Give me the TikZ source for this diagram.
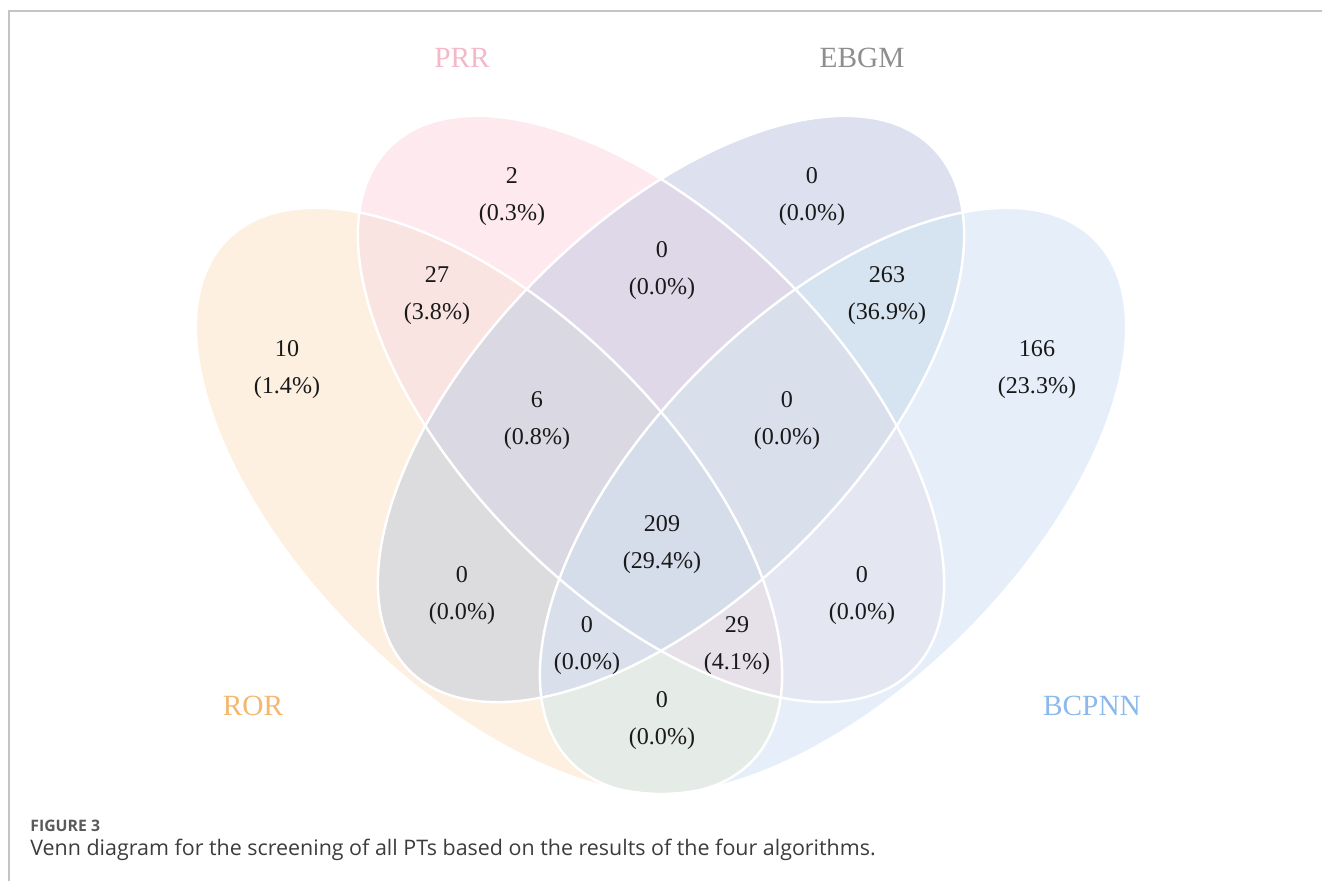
\documentclass[tikz,border=0pt]{standalone}
\usepackage{fontspec}
\setmainfont{Liberation Serif}
\newfontfamily\capfont{Open Sans}
\usetikzlibrary{positioning}
\definecolor{FrameGray}{HTML}{C4C4C4}
\definecolor{CapGray}{HTML}{5A5A5A}
\definecolor{CapText}{HTML}{3C3C3C}
\definecolor{RorLabel}{HTML}{F5B66E}
\definecolor{PrrLabel}{HTML}{F4B8C8}
\definecolor{EbgmLabel}{HTML}{8E8E8E}
\definecolor{BcpnnLabel}{HTML}{8BB9EA}
% one fill per region of the diagram
\definecolor{RorOnly}{HTML}{FDF0E0}
\definecolor{PrrOnly}{HTML}{FDE9EE}
\definecolor{EbgmOnly}{HTML}{DCE0EF}
\definecolor{BcpnnOnly}{HTML}{E5EEF9}
\definecolor{RorPrr}{HTML}{F9E4E1}
\definecolor{RorEbgm}{HTML}{DCDCDF}
\definecolor{RorBcpnn}{HTML}{E5EBE6}
\definecolor{PrrEbgm}{HTML}{DFD8E8}
\definecolor{PrrBcpnn}{HTML}{E4E6F2}
\definecolor{EbgmBcpnn}{HTML}{D6E3F0}
\definecolor{RorPrrEbgm}{HTML}{D9D8E3}
\definecolor{RorPrrBcpnn}{HTML}{E6E1E8}
\definecolor{RorEbgmBcpnn}{HTML}{D9E0EC}
\definecolor{PrrEbgmBcpnn}{HTML}{D9DFEB}
\definecolor{AllFour}{HTML}{D5DCEA}
\tikzset{
  venn/.style={x radius=7.4cm, y radius=3.74cm},
  rorset/.style={rotate around={-45:(rorc)}},
  prrset/.style={rotate around={-45:(prrc)}},
  ebgmset/.style={rotate around={45:(ebgmc)}},
  bcpnnset/.style={rotate around={45:(bcpnnc)}},
  vennline/.style={draw=white, line width=1.4pt},
  cnt/.style={align=center, font=\fontsize{13.7}{21}\selectfont, text=black!90, inner sep=0pt},
  setlab/.style={font=\fontsize{16.7}{20}\selectfont, inner sep=0pt},
  figlab/.style={font=\capfont\bfseries\fontsize{9}{10}\selectfont, text=CapGray, inner sep=0pt},
  figtext/.style={font=\capfont\fontsize{12.2}{14}\selectfont, text=CapText, inner sep=0pt},
}

\begin{document}
\begin{tikzpicture}[x=0.02cm, y=-0.02cm]

  \useasboundingbox (0,0) rectangle (1322,881);
  \draw[FrameGray, line width=0.6pt] (9,881) |- (1322,11);

  \coordinate (rorc)   at (489,501);
  \coordinate (prrc)   at (651,409);
  \coordinate (ebgmc)  at (671,409);
  \coordinate (bcpnnc) at (833,501);

  % single sets first, then pairs, triples and the four-way region on top
  \fill[RorOnly, rorset]     (rorc)   ellipse[venn];
  \fill[PrrOnly, prrset]     (prrc)   ellipse[venn];
  \fill[EbgmOnly, ebgmset]   (ebgmc)  ellipse[venn];
  \fill[BcpnnOnly, bcpnnset] (bcpnnc) ellipse[venn];

  \begin{scope}
    \clip[rorset] (rorc) ellipse[venn];
    \fill[RorPrr, prrset] (prrc) ellipse[venn];
  \end{scope}
  \begin{scope}
    \clip[rorset] (rorc) ellipse[venn];
    \fill[RorEbgm, ebgmset] (ebgmc) ellipse[venn];
  \end{scope}
  \begin{scope}
    \clip[rorset] (rorc) ellipse[venn];
    \fill[RorBcpnn, bcpnnset] (bcpnnc) ellipse[venn];
  \end{scope}
  \begin{scope}
    \clip[prrset] (prrc) ellipse[venn];
    \fill[PrrEbgm, ebgmset] (ebgmc) ellipse[venn];
  \end{scope}
  \begin{scope}
    \clip[prrset] (prrc) ellipse[venn];
    \fill[PrrBcpnn, bcpnnset] (bcpnnc) ellipse[venn];
  \end{scope}
  \begin{scope}
    \clip[ebgmset] (ebgmc) ellipse[venn];
    \fill[EbgmBcpnn, bcpnnset] (bcpnnc) ellipse[venn];
  \end{scope}

  \begin{scope}
    \clip[rorset] (rorc) ellipse[venn];
    \clip[prrset] (prrc) ellipse[venn];
    \fill[RorPrrEbgm, ebgmset] (ebgmc) ellipse[venn];
  \end{scope}
  \begin{scope}
    \clip[rorset] (rorc) ellipse[venn];
    \clip[prrset] (prrc) ellipse[venn];
    \fill[RorPrrBcpnn, bcpnnset] (bcpnnc) ellipse[venn];
  \end{scope}
  \begin{scope}
    \clip[rorset] (rorc) ellipse[venn];
    \clip[ebgmset] (ebgmc) ellipse[venn];
    \fill[RorEbgmBcpnn, bcpnnset] (bcpnnc) ellipse[venn];
  \end{scope}
  \begin{scope}
    \clip[prrset] (prrc) ellipse[venn];
    \clip[ebgmset] (ebgmc) ellipse[venn];
    \fill[PrrEbgmBcpnn, bcpnnset] (bcpnnc) ellipse[venn];
  \end{scope}
  \begin{scope}
    \clip[rorset] (rorc) ellipse[venn];
    \clip[prrset] (prrc) ellipse[venn];
    \clip[ebgmset] (ebgmc) ellipse[venn];
    \fill[AllFour, bcpnnset] (bcpnnc) ellipse[venn];
  \end{scope}

  \draw[vennline, rorset]   (rorc)   ellipse[venn];
  \draw[vennline, prrset]   (prrc)   ellipse[venn];
  \draw[vennline, ebgmset]  (ebgmc)  ellipse[venn];
  \draw[vennline, bcpnnset] (bcpnnc) ellipse[venn];

  % set names
  \node[setlab, text=PrrLabel]   (prrname)   at (462,58)  {PRR};
  \node[setlab, text=EbgmLabel]  (ebgmname)  at (862,58)  {EBGM};
  \node[setlab, text=RorLabel]   (rorname)   at (253,706) {ROR};
  \node[setlab, text=BcpnnLabel] (bcpnnname) at (1092,706) {BCPNN};

  % counts
  \node[cnt] (prronly)      at (512,197) {2\\(0.3\%)};
  \node[cnt] (ebgmonly)     at (812,197) {0\\(0.0\%)};
  \node[cnt] (rorprr)       at (437,296) {27\\(3.8\%)};
  \node[cnt] (prrebgm)      at (662,271) {0\\(0.0\%)};
  \node[cnt] (ebgmbcpnn)    at (887,296) {263\\(36.9\%)};
  \node[cnt] (roronly)      at (287,370) {10\\(1.4\%)};
  \node[cnt] (bcpnnonly)    at (1037,370) {166\\(23.3\%)};
  \node[cnt] (rorprrebgm)   at (537,421) {6\\(0.8\%)};
  \node[cnt] (prrebgmbcpnn) at (787,421) {0\\(0.0\%)};
  \node[cnt] (allfour)      at (662,545) {209\\(29.4\%)};
  \node[cnt] (rorebgm)      at (462,596) {0\\(0.0\%)};
  \node[cnt] (prrbcpnn)     at (862,596) {0\\(0.0\%)};
  \node[cnt] (rorebgmbcp)   at (587,646) {0\\(0.0\%)};
  \node[cnt] (rorprrbcp)    at (737,646) {29\\(4.1\%)};
  \node[cnt] (rorbcpnn)     at (662,721) {0\\(0.0\%)};

  % caption
  \node[figlab, anchor=base west]  (figno)  at (30,831) {FIGURE 3};
  \node[figtext, anchor=base west] (figcap) at (30,855) {Venn diagram for the screening of all PTs based on the results of the four algorithms.};

\end{tikzpicture}
\end{document}
